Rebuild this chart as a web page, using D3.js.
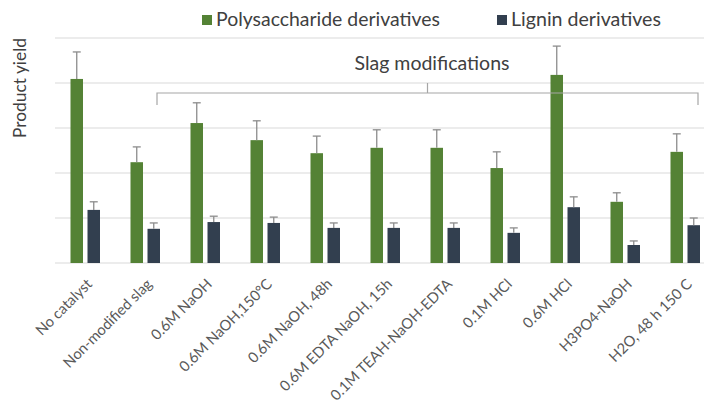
<!DOCTYPE html>
<html>
<head>
<meta charset="utf-8">
<script src="https://cdn.jsdelivr.net/npm/d3@7"></script>
<style>
  body { margin: 0; background: #fff; }
  svg { display: block; font-family: Lato, "Open Sans", sans-serif; }
</style>
</head>
<body>
<svg id="chart" width="704" height="403"></svg>
<script>
const categories = ["No catalyst", "Non-modified slag", "0.6M NaOH", "0.6M NaOH,150°C", "0.6M NaOH, 48h",
  "0.6M EDTA NaOH, 15h", "0.1M TEAH-NaOH-EDTA", "0.1M HCl", "0.6M HCl", "H3PO4-NaOH", "H2O, 48 h 150 C"];
const seriesNames = ["Polysaccharide derivatives", "Lignin derivatives"];
const polysaccharide = [4.09, 2.24, 3.11, 2.73, 2.44, 2.56, 2.56, 2.11, 4.18, 1.36, 2.47];
const polysaccharideErr = [0.60, 0.34, 0.45, 0.43, 0.38, 0.40, 0.40, 0.36, 0.64, 0.20, 0.40];
const lignin = [1.18, 0.76, 0.91, 0.89, 0.78, 0.78, 0.78, 0.67, 1.24, 0.40, 0.84];
const ligninErr = [0.18, 0.13, 0.13, 0.13, 0.11, 0.11, 0.11, 0.11, 0.23, 0.09, 0.16];
const yTicks = [0, 1, 2, 3, 4, 5];
const bracketLabel = "Slag modifications";
const yTitle = "Product yield";
const colors = ["#548235", "#323f4f"];

const svg = d3.select("#chart");
const baseY = 263, topY = 38;
const x = d3.scaleBand().domain(categories).range([55, 715]).padding(0);
const x1 = d3.scaleBand().domain([0, 1]).range([15.5, 45]).paddingInner(0.265);
const y = d3.scaleLinear().domain([0, 5]).range([baseY, topY]);

// fit a text element's font size so that its length matches a target width
function fit(sel, target) {
  const fs = parseFloat(sel.attr("font-size"));
  const len = sel.node().getComputedTextLength();
  if (len > 0) sel.attr("font-size", (fs * target / len).toFixed(2));
  return sel;
}

// gridlines
svg.append("g").selectAll("line").data(yTicks).join("line")
  .attr("x1", 55).attr("x2", 704)
  .attr("y1", d => y(d)).attr("y2", d => y(d))
  .attr("stroke", "#d9d9d9").attr("stroke-width", 1);

const series = [
  { vals: polysaccharide, errs: polysaccharideErr },
  { vals: lignin, errs: ligninErr }
];

series.forEach((s, si) => {
  const g = svg.append("g");
  const data = categories.map((c, i) => ({ c, v: s.vals[i], e: s.errs[i] }));
  g.selectAll("rect").data(data).join("rect")
    .attr("x", d => x(d.c) + x1(si))
    .attr("width", x1.bandwidth())
    .attr("y", d => y(d.v))
    .attr("height", d => y(0) - y(d.v))
    .attr("fill", colors[si]);
  const eg = svg.append("g").attr("stroke", "#8c8c8c").attr("stroke-width", 1.3);
  eg.selectAll("line.v").data(data).join("line").attr("class", "v")
    .attr("x1", d => x(d.c) + x1(si) + x1.bandwidth() / 2)
    .attr("x2", d => x(d.c) + x1(si) + x1.bandwidth() / 2)
    .attr("y1", d => y(d.v)).attr("y2", d => y(d.v + d.e));
  eg.selectAll("line.c").data(data).join("line").attr("class", "c")
    .attr("x1", d => x(d.c) + x1(si) + x1.bandwidth() / 2 - 4)
    .attr("x2", d => x(d.c) + x1(si) + x1.bandwidth() / 2 + 4)
    .attr("y1", d => y(d.v + d.e)).attr("y2", d => y(d.v + d.e));
});

// x labels
const xl = svg.append("g").selectAll("text").data(categories).join("text")
  .attr("transform", d => `translate(${x(d) + x.bandwidth() / 2 + 8},${285}) rotate(-45)`)
  .attr("text-anchor", "end")
  .attr("font-size", 14)
  .attr("fill", "#595959")
  .text(d => d);
// size from the longest label's measured length
const ref = xl.filter((d, i) => i === 6);
const fsX = 14 * 165 / ref.node().getComputedTextLength();
xl.attr("font-size", fsX.toFixed(2));

// y title
fit(svg.append("text")
  .attr("transform", "translate(26,88) rotate(-90)")
  .attr("text-anchor", "middle")
  .attr("font-size", 15)
  .attr("fill", "#404040")
  .text(yTitle), 100);

// bracket
const bx0 = 157, bx1 = 698, by = 93;
const bc = (bx0 + bx1) / 2;
svg.append("path")
  .attr("d", `M${bx0},${by + 12}V${by}H${bx1}V${by + 12}M${bc},${by}V${by - 10}`)
  .attr("fill", "none").attr("stroke", "#a6a6a6").attr("stroke-width", 1.2);
fit(svg.append("text")
  .attr("x", 432).attr("y", 70)
  .attr("text-anchor", "middle")
  .attr("font-size", 16)
  .attr("fill", "#404040")
  .text(bracketLabel), 155);

// legend
const legX = [202, 497];
const legW = [224, 150];
seriesNames.forEach((n, i) => {
  svg.append("rect").attr("x", legX[i]).attr("y", 15).attr("width", 10).attr("height", 10).attr("fill", colors[i]);
  fit(svg.append("text").attr("x", legX[i] + 14).attr("y", 26)
    .attr("font-size", 16).attr("fill", "#404040").text(n), legW[i]);
});
</script>
</body>
</html>
